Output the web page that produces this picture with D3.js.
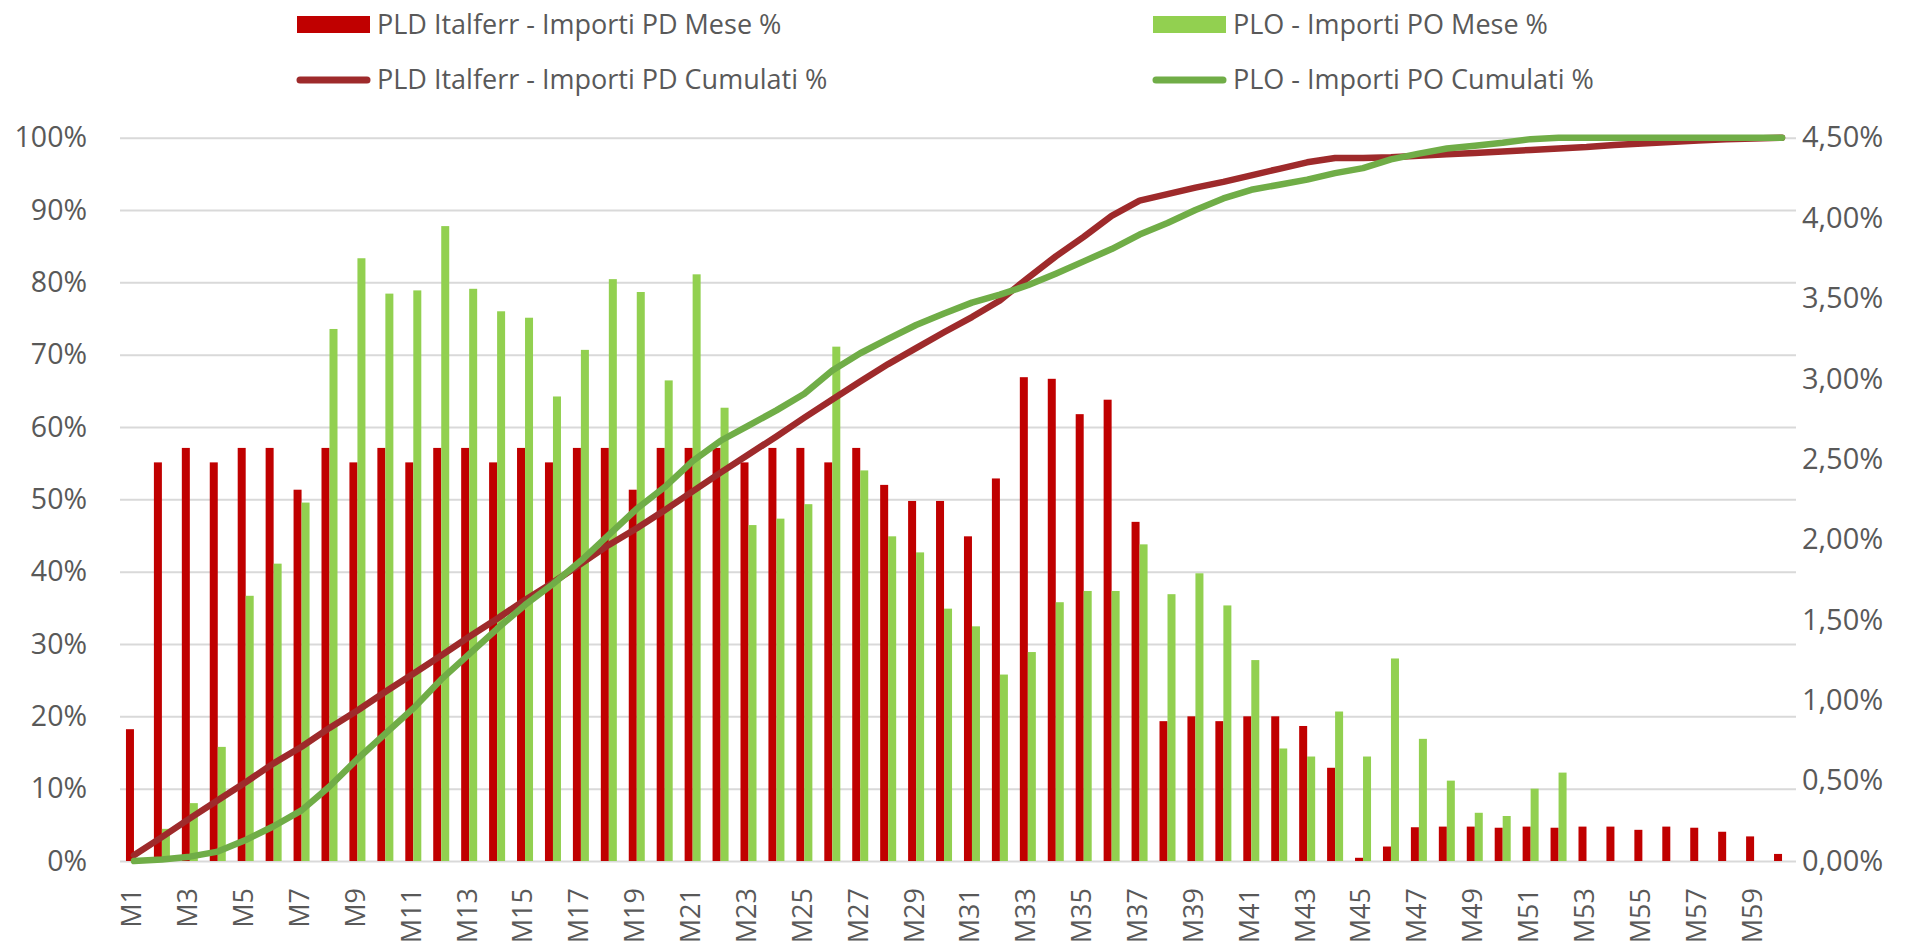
<!DOCTYPE html>
<html>
<head>
<meta charset="utf-8">
<script src="https://cdn.jsdelivr.net/npm/d3@7"></script>
<style>
  html, body { margin: 0; padding: 0; background: #fff; }
  svg { display: block; }
  text { font-family: "Open Sans", "Noto Sans", sans-serif; fill: #595959; }
</style>
</head>
<body>
<svg id="chart" width="1917" height="945"></svg>
<script>
// ---------------- DATA ----------------
const months = ["M1","M2","M3","M4","M5","M6","M7","M8","M9","M10",
  "M11","M12","M13","M14","M15","M16","M17","M18","M19","M20",
  "M21","M22","M23","M24","M25","M26","M27","M28","M29","M30",
  "M31","M32","M33","M34","M35","M36","M37","M38","M39","M40",
  "M41","M42","M43","M44","M45","M46","M47","M48","M49","M50",
  "M51","M52","M53","M54","M55","M56","M57","M58","M59","M60"];

// Monthly amounts (% , right axis)
const pdMese = [0.82,2.48,2.57,2.48,2.57,2.57,2.31,2.57,2.48,2.57,
  2.48,2.57,2.57,2.48,2.57,2.48,2.57,2.57,2.31,2.57,
  2.57,2.57,2.48,2.57,2.57,2.48,2.57,2.34,2.24,2.24,
  2.02,2.38,3.01,3.00,2.78,2.87,2.11,0.87,0.90,0.87,
  0.90,0.90,0.84,0.58,0.02,0.09,0.21,0.214,0.214,0.207,
  0.214,0.207,0.214,0.214,0.194,0.214,0.207,0.182,0.153,0.044];

const poMese = [0,0.20,0.36,0.71,1.65,1.85,2.23,3.31,3.75,3.53,
  3.55,3.95,3.56,3.42,3.38,2.89,3.18,3.62,3.54,2.99,
  3.65,2.82,2.09,2.13,2.22,3.20,2.43,2.02,1.92,1.57,
  1.46,1.16,1.30,1.61,1.68,1.68,1.97,1.66,1.79,1.59,
  1.25,0.70,0.65,0.93,0.65,1.26,0.76,0.50,0.30,0.28,
  0.45,0.55,0,0,0,0,0,0,0,0];

// Cumulative amounts (% , left axis)
const pdCum = [0.8,3.3,5.9,8.4,10.9,13.5,15.8,18.4,20.8,23.4,
  25.9,28.4,31.0,33.5,36.1,38.5,41.1,43.7,46.0,48.5,
  51.1,53.7,56.2,58.7,61.3,63.8,66.3,68.7,70.9,73.1,
  75.2,77.5,80.6,83.6,86.3,89.2,91.3,92.2,93.1,93.9,
  94.8,95.7,96.6,97.2,97.2,97.3,97.5,97.7,97.9,98.1,
  98.3,98.5,98.7,99.0,99.2,99.4,99.6,99.8,99.9,100];

const poCum = [0,0.2,0.6,1.3,2.9,4.8,7.0,10.3,14.1,17.6,
  21.1,25.1,28.6,32.1,35.4,38.3,41.5,45.1,48.7,51.7,
  55.3,58.1,60.2,62.3,64.6,67.8,70.2,72.2,74.1,75.7,
  77.2,78.3,79.6,81.2,82.9,84.6,86.6,88.2,90.0,91.6,
  92.8,93.5,94.2,95.1,95.8,97.0,97.8,98.5,98.9,99.3,
  99.8,100,100,100,100,100,100,100,100,100];

const leftTicks = [0,10,20,30,40,50,60,70,80,90,100];
const rightTicks = [0,0.5,1,1.5,2,2.5,3,3.5,4,4.5];
const xTickLabels = ["M1","M3","M5","M7","M9","M11","M13","M15","M17","M19",
  "M21","M23","M25","M27","M29","M31","M33","M35","M37","M39",
  "M41","M43","M45","M47","M49","M51","M53","M55","M57","M59"];

const seriesNames = {
  pdMese: "PLD Italferr - Importi PD Mese %",
  poMese: "PLO - Importi PO Mese %",
  pdCum: "PLD Italferr - Importi PD Cumulati %",
  poCum: "PLO - Importi PO Cumulati %"
};

// ---------------- STYLE ----------------
const C = { pdBar: "#C00000", poBar: "#92D050", pdLine: "#9E2A2B", poLine: "#70AD47", grid: "#D9D9D9" };
const L = 120, R = 1796, T = 137.7, B = 861;

const svg = d3.select("#chart");

const x = d3.scaleBand().domain(months).range([L, R]).paddingInner(0.427).paddingOuter(0.2135);
const xs = d3.scaleBand().domain(["pd", "po"]).range([0, x.bandwidth()]);
const yL = d3.scaleLinear().domain([0, 100]).range([B, T]);
const yR = d3.scaleLinear().domain([0, 4.5]).range([B, T]);

// gridlines + left axis
const gLeft = svg.append("g").attr("transform", `translate(${L},0)`)
  .call(d3.axisLeft(yL).tickValues(leftTicks).tickSizeInner(-(R - L)).tickSizeOuter(0)
    .tickPadding(33).tickFormat(d => d + "%"));
gLeft.select(".domain").remove();
gLeft.selectAll("line").attr("stroke", C.grid).attr("stroke-width", 2);
gLeft.selectAll("text").style("font-size", "28.5px").style("font-family", '"Open Sans", sans-serif').attr("fill", "#595959");

// right axis
const loc = d3.formatLocale({ decimal: ",", thousands: ".", grouping: [3], currency: ["€", ""] });
const fR = loc.format(",.2f");
const gRight = svg.append("g").attr("transform", `translate(${R},0)`)
  .call(d3.axisRight(yR).tickValues(rightTicks).tickSize(0).tickPadding(6).tickFormat(d => fR(d) + "%"));
gRight.select(".domain").remove();
gRight.selectAll("text").style("font-size", "29px").style("font-family", '"Open Sans", sans-serif').attr("fill", "#595959");

// bars
const barData = months.map((m, i) => ({ m, pd: pdMese[i], po: poMese[i] }));
const groups = svg.append("g").selectAll("g").data(barData).join("g")
  .attr("transform", d => `translate(${x(d.m)},0)`);
groups.append("rect")
  .attr("x", xs("pd")).attr("width", xs.bandwidth())
  .attr("y", d => yR(d.pd)).attr("height", d => B - yR(d.pd))
  .attr("fill", C.pdBar);
groups.append("rect")
  .attr("x", xs("po")).attr("width", xs.bandwidth())
  .attr("y", d => yR(d.po)).attr("height", d => B - yR(d.po))
  .attr("fill", C.poBar);

// x axis
const gX = svg.append("g").attr("transform", `translate(0,${B})`)
  .call(d3.axisBottom(x).tickValues(xTickLabels).tickSize(0));
gX.select(".domain").remove();
gX.selectAll("text")
  .attr("transform", "rotate(-90)")
  .attr("x", -27).attr("y", -2).attr("dy", "0.35em")
  .attr("text-anchor", "end")
  .style("font-size", "27px").style("font-family", '"Open Sans", sans-serif').attr("fill", "#595959");

// lines
const lineGen = d3.line().x((d, i) => x(months[i]) + x.bandwidth() / 2).y(d => yL(d));
svg.append("path").datum(pdCum).attr("d", lineGen)
  .attr("fill", "none").attr("stroke", C.pdLine).attr("stroke-width", 6.5)
  .attr("stroke-linejoin", "round").attr("stroke-linecap", "round");
svg.append("path").datum(poCum).attr("d", lineGen)
  .attr("fill", "none").attr("stroke", C.poLine).attr("stroke-width", 6.5)
  .attr("stroke-linejoin", "round").attr("stroke-linecap", "round");

// legend
const legend = svg.append("g");
const legendItems = [
  { key: "pdMese", type: "rect", color: C.pdBar, x: 297, y: 24.5 },
  { key: "poMese", type: "rect", color: C.poBar, x: 1153, y: 24.5 },
  { key: "pdCum", type: "line", color: C.pdLine, x: 297, y: 80 },
  { key: "poCum", type: "line", color: C.poLine, x: 1153, y: 80 }
];
legendItems.forEach(it => {
  const g = legend.append("g").attr("transform", `translate(${it.x},${it.y})`);
  if (it.type === "rect") {
    g.append("rect").attr("x", 0).attr("y", -8.5).attr("width", 73).attr("height", 17).attr("fill", it.color);
  } else {
    g.append("line").attr("x1", 3).attr("x2", 70).attr("y1", 0).attr("y2", 0)
      .attr("stroke", it.color).attr("stroke-width", 7).attr("stroke-linecap", "round");
  }
  g.append("text").attr("x", 80).attr("y", 0).attr("dy", "0.35em")
    .style("font-size", "27px").text(seriesNames[it.key]);
});
</script>
</body>
</html>
